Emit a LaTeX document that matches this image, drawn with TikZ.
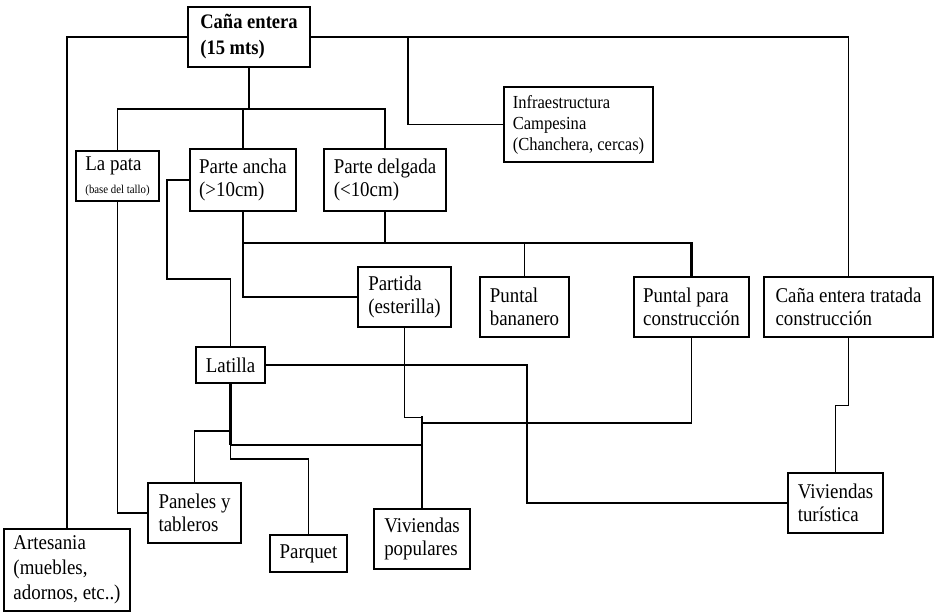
\documentclass[tikz,border=0pt]{standalone}
\usepackage{fontspec}
\setmainfont[FakeStretch=0.9]{Liberation Serif}
\usetikzlibrary{calc}

\tikzset{
  caja/.style 2 args={draw, line width=.7pt, align=left, inner sep=0pt,
    minimum width=#1*0.5pt, minimum height=#2*0.5pt,
    font=\fontsize{10.5}{11.5}\selectfont},
  linea/.style={line width=.6pt},
  gruesa/.style={line width=1.1pt},
}

\begin{document}
\begin{tikzpicture}[x=0.5pt,y=-0.5pt]
  \useasboundingbox (0,0) rectangle (937,613);

  % cajas
  \node[caja={122}{60}, font=\bfseries\fontsize{10.3}{13}\selectfont] (cana) at (249,37) {Caña entera\\(15 mts)};
  \node[caja={83}{50}] (pata) at (117.5,176) {La pata\\{\fontsize{6}{6.5}\selectfont (base del tallo)}};
  \node[caja={106}{62}] (ancha) at (243,180) {Parte ancha\\(>10cm)};
  \node[caja={122}{62}] (delgada) at (385,180) {Parte delgada\\(<10cm)};
  \node[caja={149}{75}, font=\fontsize{9.2}{10.5}\selectfont] (infra) at (578.5,124.5) {Infraestructura\\Campesina\\(Chanchera, cercas)};
  \node[caja={93}{60}] (partida) at (404.5,297) {Partida\\(esterilla)};
  \node[caja={89}{60}] (bananero) at (524.5,307) {Puntal\\bananero};
  \node[caja={115}{60}] (constr) at (691.5,307) {Puntal para\\construcción};
  \node[caja={169}{60}] (trat) at (848.5,307) {Caña entera tratada\\construcción};
  \node[caja={69}{36}] (latilla) at (230.5,365) {Latilla};
  \node[caja={93}{60}] (paneles) at (194.5,513) {Paneles y\\tableros};
  \node[caja={77}{37}] (parquet) at (308.5,553.5) {Parquet};
  \node[caja={96}{60}] (vivpop) at (422,539) {Viviendas\\populares};
  \node[caja={95}{60}] (turis) at (835.5,503) {Viviendas\\turística};
  \node[caja={126}{82}, font=\fontsize{10.5}{12.5}\selectfont] (artes) at (67,570) {Artesania\\(muebles,\\adornos, etc..)};

  % puntos de union
  \coordinate (c1) at (249,109);
  \coordinate (c2) at (408,37);
  \coordinate (c3) at (167,279);
  \coordinate (c4) at (243,243);
  \coordinate (c5) at (422,423);
  \coordinate (c6) at (527,503);
  \coordinate (c7) at (230.5,431);
  \coordinate (c8) at (230.5,445);
  \coordinate (c9) at (308.5,459);

  % conexiones
  \draw[linea] (cana.west) -| (artes.north);
  \draw[linea] (cana.east) -| (trat.north);
  \draw[linea] (c2) |- (infra.west);
  \draw[gruesa] (cana.south) -- (c1);
  \draw[linea] (pata.north) |- (c1) -| (delgada.north);
  \draw[linea] (ancha.north) -- (ancha.north |- c1);
  \draw[linea] (pata.south) |- (paneles.west);
  \draw[linea] (ancha.west) -| (c3) -| (latilla.north);

  \draw[gruesa] (ancha.south) -- (c4);
  \draw[linea] (c4) -- (c4 -| delgada.south);
  \draw[gruesa] (delgada.south) |- (constr.north |- c4) -- (constr.north);
  \draw[linea] (bananero.north) -- (bananero.north |- c4);
  \draw[linea] (c4) |- (partida.west);

  \draw[linea] (partida.south) -- ++(0,90) -| (c5);
  \draw[gruesa] (vivpop.north) -- ++(0,-92);
  \draw[linea] (constr.south) |- (c5);

  \draw[linea] (latilla.east) -| (c6) -- (turis.west);
  \draw[gruesa] (latilla.south) -- (c8);
  \draw[linea] (c7) -| (paneles.north);
  \draw[linea] (c8) -- (c8 -| vivpop.north);
  \draw[linea] (c8) |- (c9) -- (parquet.north);

  \draw[linea] (trat.south) -- ++(0,68) -| (turis.north);
\end{tikzpicture}
\end{document}
